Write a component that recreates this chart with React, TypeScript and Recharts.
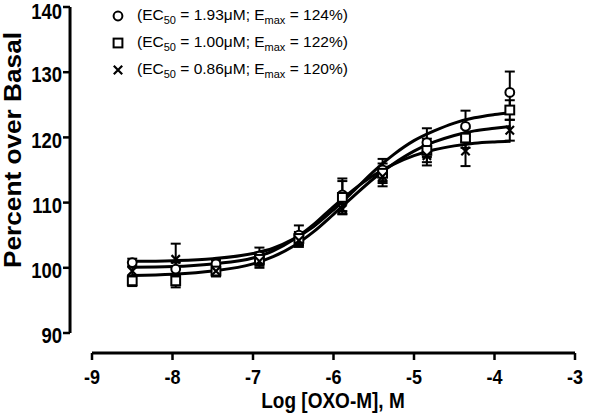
import { ComposedChart, ErrorBar, Label, Legend, Line, ReferenceLine, Scatter, XAxis, YAxis } from 'recharts';

// axis ticks
const X_TICKS = [-9, -8, -7, -6, -5, -4, -3];
const Y_TICKS = [90, 100, 110, 120, 130, 140];

// log [OXO-M] where the points sit in the figure
const DOSE = [-8.5, -7.96, -7.46, -6.92, -6.43, -5.89, -5.39, -4.84, -4.36, -3.81];

// mean ± SEM
const CIRCLE_MEAN = [100.8, 99.8, 100.6, 101.8, 105.0, 111.2, 115.0, 119.2, 121.7, 126.9];
const CIRCLE_SEM = [0.6, 1.0, 0.6, 1.3, 1.5, 2.5, 1.7, 2.2, 2.4, 3.2];
const SQUARE_MEAN = [98.0, 98.0, 99.5, 101.3, 104.5, 110.8, 114.5, 118.0, 119.9, 124.2];
const SQUARE_SEM = [0.8, 1.0, 0.8, 1.0, 1.0, 2.5, 1.5, 1.8, 1.5, 1.5];
const CROSS_MEAN = [99.5, 101.3, 99.5, 101.0, 104.2, 109.0, 114.0, 117.2, 117.9, 121.1];
const CROSS_SEM = [0.7, 2.4, 0.8, 1.0, 1.0, 0.8, 1.5, 1.5, 2.3, 1.6];

// fitted curves
const FIT_X = [-8.5, -8, -7.5, -7, -6.75, -6.5, -6.25, -6, -5.75, -5.5, -5.25, -5, -4.75, -4.5, -4.25, -4, -3.8];
const FIT_CIRCLE = [101.0, 101.1, 101.4, 102.2, 103.0, 104.4, 106.3, 108.9, 111.8, 114.8, 117.4, 119.5, 121.0, 122.2, 123.0, 123.5, 123.8];
const FIT_SQUARE = [98.8, 99.0, 99.5, 100.6, 101.7, 103.3, 105.5, 108.2, 111.0, 113.7, 116.0, 117.9, 119.3, 120.3, 121.0, 121.4, 121.7];
const FIT_CROSS = [100.1, 100.2, 100.6, 101.5, 102.6, 104.3, 106.6, 109.4, 112.0, 114.2, 115.9, 117.2, 118.1, 118.7, 119.1, 119.3, 119.4];

// legend text
const EC50 = ['1.93', '1.00', '0.86'];
const EMAX = ['124', '122', '120'];

const FONT = '"Liberation Sans", Arial, Helvetica, sans-serif';
// the source figure is a bit stretched vertically
const STRETCH = 1.15;

const points = (means: number[], sems: number[]) =>
  DOSE.map((x, i) => ({ x, y: means[i], err: sems[i] }));
const curve = (ys: number[]) => FIT_X.map((x, i) => ({ x, y: ys[i] }));

type Kind = 'circle' | 'square' | 'cross';

function Marker({ kind, cx, cy }: { kind: Kind; cx: number; cy: number }) {
  if (kind === 'circle') {
    return <circle cx={cx} cy={cy} r={4.4} fill="#fff" stroke="#000" strokeWidth={2} />;
  }
  if (kind === 'square') {
    return <rect x={cx - 4.4} y={cy - 4.4} width={8.8} height={8.8} fill="#fff" stroke="#000" strokeWidth={2} />;
  }
  return (
    <path
      d={`M${cx - 4.2},${cy - 4.2}L${cx + 4.2},${cy + 4.2}M${cx - 4.2},${cy + 4.2}L${cx + 4.2},${cy - 4.2}`}
      stroke="#000"
      strokeWidth={2.2}
    />
  );
}

const shapeOf = (kind: Kind) => (props: any) => <Marker kind={kind} cx={props.cx} cy={props.cy} />;

const KINDS: Kind[] = ['circle', 'square', 'cross'];

function LegendBox() {
  return (
    <div style={{ fontFamily: FONT, fontSize: 15.5, color: '#000' }}>
      {KINDS.map((k, i) => (
        <div key={k} style={{ display: 'flex', alignItems: 'center', height: 27, whiteSpace: 'nowrap' }}>
          <svg width={14} height={14} style={{ marginRight: 12 }}>
            <Marker kind={k} cx={7} cy={7} />
          </svg>
          <span>
            (EC<span style={{ fontSize: 11, verticalAlign: -4 }}>50</span> = {EC50[i]}μM; E
            <span style={{ fontSize: 11, verticalAlign: -4 }}>max</span> = {EMAX[i]}%)
          </span>
        </div>
      ))}
    </div>
  );
}

function XTick({ x, y, payload }: any) {
  return (
    <g transform={`translate(${x},${y}) scale(1,${STRETCH})`}>
      <text textAnchor="middle" dy="0.71em" fontFamily={FONT} fontSize={18} fontWeight="bold" fill="#000">
        {payload.value}
      </text>
    </g>
  );
}

function YTick({ x, y, payload }: any) {
  return (
    <g transform={`translate(${x},${y}) scale(1,${STRETCH})`}>
      <text textAnchor="end" dy="0.48em" fontFamily={FONT} fontSize={18.5} fontWeight="bold" fill="#000">
        {payload.value}
      </text>
    </g>
  );
}

export default function App() {
  return (
    <div style={{ position: 'absolute', left: 0, top: 0, background: '#fff' }}>
      <ComposedChart width={600} height={413} margin={{ top: 7, right: 25, bottom: 0, left: 0 }}>
        <XAxis
          type="number"
          dataKey="x"
          domain={[-9, -3]}
          ticks={X_TICKS}
          padding={{ left: 22, right: 0 }}
          axisLine={false}
          tickLine={{ stroke: '#000', strokeWidth: 2.5 }}
          tickSize={7}
          tickMargin={9}
          tick={<XTick />}
          height={60}
          allowDataOverflow
        >
          <Label
            content={() => (
              <g transform={`translate(333,408) scale(1,${STRETCH})`}>
                <text textAnchor="middle" fontFamily={FONT} fontSize={19} fontWeight="bold" fill="#000">
                  Log [OXO-M], M
                </text>
              </g>
            )}
          />
        </XAxis>
        <YAxis
          type="number"
          domain={[90, 140]}
          ticks={Y_TICKS}
          padding={{ top: 0, bottom: 20 }}
          axisLine={false}
          tickLine={{ stroke: '#000', strokeWidth: 2.5 }}
          tickSize={7}
          tickMargin={1}
          tick={<YTick />}
          width={70}
          allowDataOverflow
        >
          <Label
            content={() => (
              <text
                x={13}
                y={150}
                transform="rotate(-90 13 150)"
                textAnchor="middle"
                dominantBaseline="central"
                fontFamily={FONT}
                fontSize={23}
                fontWeight="bold"
                fill="#000"
                textLength={236}
                lengthAdjust="spacingAndGlyphs"
              >
                Percent over Basal
              </text>
            )}
          />
        </YAxis>

        {/* offset axis lines, GraphPad style */}
        <ReferenceLine
          segment={[{ x: -9.273, y: 90 }, { x: -9.273, y: 140 }]}
          stroke="#000"
          strokeWidth={3}
          ifOverflow="visible"
        />
        <ReferenceLine
          segment={[{ x: -9, y: 86.94 }, { x: -3, y: 86.94 }]}
          stroke="#000"
          strokeWidth={3}
          ifOverflow="visible"
        />

        <Line data={curve(FIT_CIRCLE)} dataKey="y" type="monotone" stroke="#000" strokeWidth={3} dot={false} isAnimationActive={false} />
        <Line data={curve(FIT_SQUARE)} dataKey="y" type="monotone" stroke="#000" strokeWidth={3} dot={false} isAnimationActive={false} />
        <Line data={curve(FIT_CROSS)} dataKey="y" type="monotone" stroke="#000" strokeWidth={3} dot={false} isAnimationActive={false} />

        <Scatter data={points(CIRCLE_MEAN, CIRCLE_SEM)} dataKey="y" shape={shapeOf('circle')} isAnimationActive={false}>
          <ErrorBar dataKey="err" direction="y" width={5} stroke="#000" strokeWidth={2} />
        </Scatter>
        <Scatter data={points(SQUARE_MEAN, SQUARE_SEM)} dataKey="y" shape={shapeOf('square')} isAnimationActive={false}>
          <ErrorBar dataKey="err" direction="y" width={5} stroke="#000" strokeWidth={2} />
        </Scatter>
        <Scatter data={points(CROSS_MEAN, CROSS_SEM)} dataKey="y" shape={shapeOf('cross')} isAnimationActive={false}>
          <ErrorBar dataKey="err" direction="y" width={5} stroke="#000" strokeWidth={2} />
        </Scatter>

        <Legend
          layout="vertical"
          align="center"
          verticalAlign="middle"
          content={() => <LegendBox />}
          wrapperStyle={{ top: 2, left: 111, width: 280 }}
        />
      </ComposedChart>
    </div>
  );
}
